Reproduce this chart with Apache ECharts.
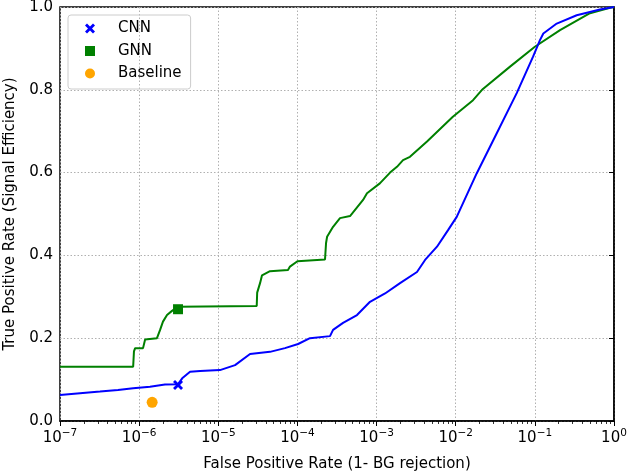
<!DOCTYPE html>
<html><head><meta charset="utf-8">
<script src="https://cdn.jsdelivr.net/npm/echarts@6/dist/echarts.min.js"></script>
<style>html,body{margin:0;padding:0;background:#fff}#c{width:630px;height:474px}</style>
</head><body><div id="c"></div>
<script>
// ROC curves: [false positive rate, true positive rate]
const cnnCurve = [
  [1e-7,0.063],[1.79e-7,0.067],[3.2e-7,0.071],[5.4e-7,0.075],[8.4e-7,0.079],[1.37e-6,0.083],
  [2.12e-6,0.088],[3.1e-6,0.089],[3.5e-6,0.103],[4.4e-6,0.119],[5.9e-6,0.121],[1.05e-5,0.123],
  [1.63e-5,0.135],[2.52e-5,0.162],[4.5e-5,0.167],[6.96e-5,0.176],[1.02e-4,0.186],[1.44e-4,0.2],
  [2.58e-4,0.205],[2.82e-4,0.22],[3.77e-4,0.237],[5.66e-4,0.256],[8.26e-4,0.288],[1.28e-3,0.308],
  [1.98e-3,0.333],[3.24e-3,0.36],[4.1e-3,0.389],[5.8e-3,0.421],[8.0e-3,0.461],[0.0103,0.493],
  [0.0184,0.598],[0.033,0.695],[0.059,0.792],[0.0949,0.88],[0.116,0.92],[0.128,0.936],
  [0.189,0.96],[0.338,0.98],[0.665,0.994],[1,1]
];
const gnnCurve = [
  [1e-7,0.131],[8.4e-7,0.131],[8.6e-7,0.168],[8.9e-7,0.176],[1.12e-6,0.176],[1.19e-6,0.197],
  [1.68e-6,0.2],[1.84e-6,0.22],[2.0e-6,0.24],[2.25e-6,0.256],[2.6e-6,0.266],[3.1e-6,0.276],
  [3.06e-5,0.278],[3.1e-5,0.31],[3.37e-5,0.333],[3.57e-5,0.352],[4.5e-5,0.362],[7.6e-5,0.365],
  [8.05e-5,0.373],[1.0e-4,0.386],[2.23e-4,0.39],[2.3e-4,0.43],[2.37e-4,0.445],[2.82e-4,0.469],
  [3.45e-4,0.49],[4.62e-4,0.495],[6.75e-4,0.534],[7.57e-4,0.55],[1.1e-3,0.574],[1.48e-3,0.6],
  [1.81e-3,0.614],[2.16e-3,0.63],[2.64e-3,0.638],[4.34e-3,0.675],[9.2e-3,0.735],[0.01656,0.775],
  [0.0215,0.8],[0.0486,0.856],[0.1,0.904],[0.208,0.944],[0.497,0.985],[0.891,0.998],[1,1]
];
const cnnPoint = [[3.1e-6,0.087]];
const gnnPoint = [[3.1e-6,0.27]];
const baselinePoint = [[1.46e-6,0.045]];
const legendNames = ['CNN','GNN','Baseline'];
const xDecades = [-7,-6,-5,-4,-3,-2,-1,0];
const yTicks = [0,0.2,0.4,0.6,0.8,1.0];
const xTitle = 'False Positive Rate (1- BG rejection)';
const yTitle = 'True Positive Rate (Signal Efficiency)';

// minor tick positions in log10 space (2..9 within each decade)
const minorLog = [];
for (let i = 0; i < xDecades.length - 1; i++) {
  for (let m = 2; m <= 9; m++) minorLog.push(xDecades[i] + Math.log10(m));
}
const FONT = 'DejaVu Sans';
const xSymbol = 'path://M0,2 L2,0 L5,3 L8,0 L10,2 L7,5 L10,8 L8,10 L5,7 L2,10 L0,8 L3,5 Z';
const gridLine = {show: true, lineStyle: {color: '#b0b0b0', type: [1.5,2], width: 1}};

const chart = echarts.init(document.getElementById('c'), null, {renderer:'canvas'});
chart.setOption({
  animation: false,
  textStyle: {fontFamily: FONT},
  grid: {left: 60, right: 16, top: 7, bottom: 53, containLabel: false, outerBoundsMode: 'none',
         show: true, borderColor: '#000', borderWidth: 1.5, backgroundColor: 'transparent'},
  legend: {
    data: legendNames.map(n => ({name: n})),
    orient: 'vertical', left: 68, top: 15,
    padding: [6, 9, 8, 17],
    itemGap: 7.5, itemWidth: 10, itemHeight: 10,
    borderColor: '#cccccc', borderWidth: 1, borderRadius: 3,
    textStyle: {fontFamily: FONT, fontSize: 15, color: '#000', padding: [0,0,0,18], lineHeight: 15},
    selectedMode: false
  },
  xAxis: [{
    type: 'log', logBase: 10, min: 1e-7, max: 1,
    name: xTitle, nameLocation: 'middle', nameGap: 36,
    nameTextStyle: {fontFamily: FONT, fontSize: 15, color: '#000'},
    axisLine: {show: true, lineStyle: {color: '#000', width: 1.5}},
    axisTick: {show: true, inside: false, length: 5, lineStyle: {color: '#000', width: 1}},
    minorTick: {show: false},
    axisLabel: {
      margin: 7,
      formatter: v => {
        const e = Math.round(Math.log10(v));
        return '{b|10}{s|' + (e < 0 ? '\u2212' + (-e) : e) + '}';
      },
      rich: {
        b: {fontFamily: FONT, fontSize: 15, color: '#000'},
        s: {fontFamily: FONT, fontSize: 10.5, color: '#000', padding: [0,0,9,0]}
      }
    },
    splitLine: gridLine,
    minorSplitLine: {show: false}
  }, {
    type: 'value', min: xDecades[0], max: xDecades[xDecades.length-1], position: 'bottom',
    axisLine: {show: false},
    axisTick: {show: true, length: 3, lineStyle: {color: '#000', width: 0.8}, customValues: minorLog},
    axisLabel: {show: false},
    splitLine: {show: false}
  }],
  yAxis: {
    type: 'value', min: 0, max: 1, interval: 0.2,
    name: yTitle, nameLocation: 'middle', nameGap: 42,
    nameTextStyle: {fontFamily: FONT, fontSize: 15, color: '#000'},
    axisLine: {show: true, lineStyle: {color: '#000', width: 1.5}},
    axisTick: {show: true, length: 5, lineStyle: {color: '#000'}},
    axisLabel: {fontFamily: FONT, fontSize: 15, color: '#000', margin: 7, formatter: v => v.toFixed(1)},
    splitLine: gridLine
  },
  series: [
    {name: 'CNN curve', type: 'line', data: cnnCurve, showSymbol: false, symbol: 'none',
     lineStyle: {color: '#0000ff', width: 2}, itemStyle: {color: '#0000ff'}, z: 3},
    {name: 'GNN curve', type: 'line', data: gnnCurve, showSymbol: false, symbol: 'none',
     lineStyle: {color: '#008000', width: 2}, itemStyle: {color: '#008000'}, z: 2},
    {name: 'CNN', type: 'scatter', data: cnnPoint, symbol: xSymbol, symbolSize: 10,
     itemStyle: {color: '#0000ff', opacity: 1}, z: 5},
    {name: 'GNN', type: 'scatter', data: gnnPoint, symbol: 'rect', symbolSize: 10,
     itemStyle: {color: '#008000', opacity: 1}, z: 5},
    {name: 'Baseline', type: 'scatter', data: baselinePoint, symbol: 'circle', symbolSize: 11,
     itemStyle: {color: '#ffa500', opacity: 1}, z: 5}
  ]
});
</script></body></html>
